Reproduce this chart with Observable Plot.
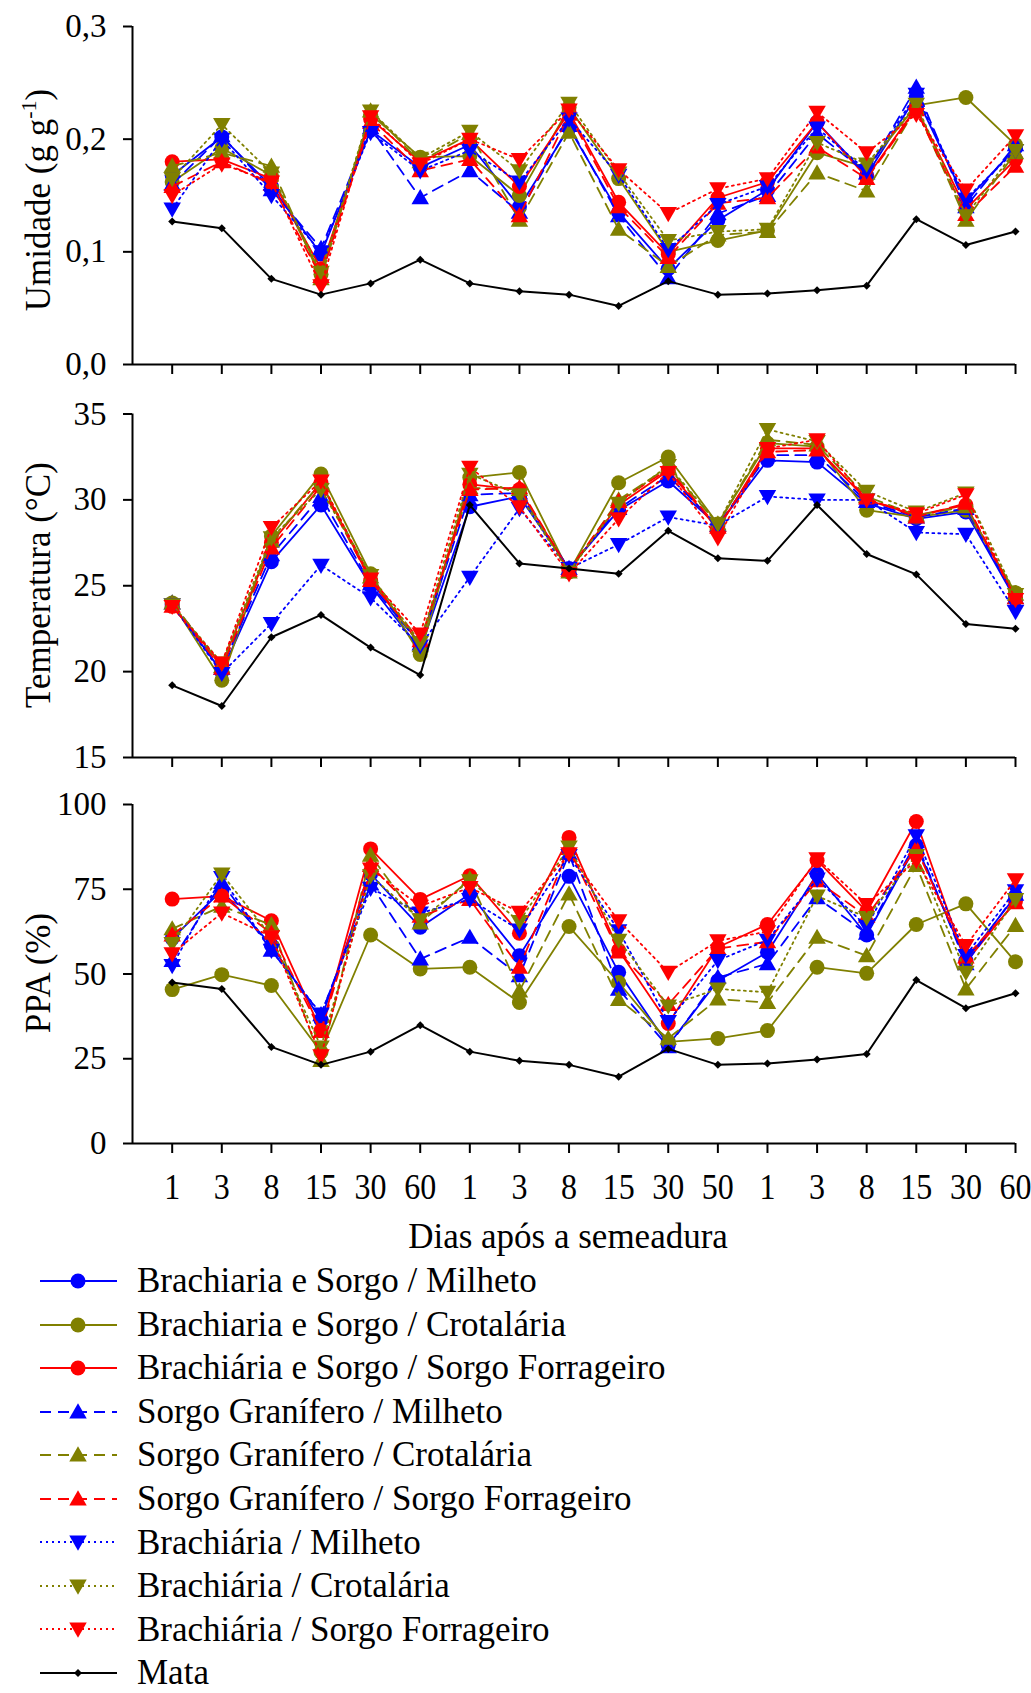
<!DOCTYPE html>
<html><head><meta charset="utf-8">
<script src="https://cdn.jsdelivr.net/npm/d3@7"></script>
<script src="https://cdn.jsdelivr.net/npm/@observablehq/plot@0.6"></script>
<style>
body{margin:0;background:#fff;font-family:"Liberation Serif","Times New Roman",Times,serif;color:#000;}
#wrap{position:relative;width:1031px;height:1693px;overflow:hidden;}
.panel{position:absolute;left:0;}
.ylab{position:absolute;font-size:35px;white-space:nowrap;transform:translate(-50%,-50%) rotate(-90deg);line-height:1;}
.ylab sup{font-size:22px;position:relative;top:-2px;}
#xlab{position:absolute;font-size:35px;white-space:nowrap;transform:translate(-50%,-50%);line-height:1;}
.leg{position:absolute;left:0;height:44px;display:flex;align-items:center;}
.leg span{font-size:35px;white-space:nowrap;line-height:0.9;}
</style></head><body><div id="wrap"></div>
<script>
// ---------- categories ----------
const days = ["1","3","8","15","30","60","1","3","8","15","30","50","1","3","8","15","30","60"];
const seriesNames = [
  "Brachiaria e Sorgo / Milheto",
  "Brachiaria e Sorgo / Crotalária",
  "Brachiária e Sorgo / Sorgo Forrageiro",
  "Sorgo Granífero / Milheto",
  "Sorgo Granífero / Crotalária",
  "Sorgo Granífero / Sorgo Forrageiro",
  "Brachiária / Milheto",
  "Brachiária / Crotalária",
  "Brachiária / Sorgo Forrageiro",
  "Mata"
];
const seriesColors = ["#0000ff","#808000","#ff0000","#0000ff","#808000","#ff0000","#0000ff","#808000","#ff0000","#000000"];
const seriesDash = [null,null,null,"11,7","11,7","11,7","2,4","2,4","2,4",null];
const seriesShape = ["circle","circle","circle","up","up","up","down","down","down","mata"];

// ---------- Umidade (g g-1) ----------
const umBSM = [0.168,0.202,0.158,0.098,0.208,0.175,0.195,0.140,0.210,0.135,0.085,0.128,0.155,0.215,0.168,0.238,0.145,0.192];
const umBSC = [0.162,0.192,0.168,0.080,0.222,0.184,0.185,0.150,0.228,0.165,0.100,0.110,0.119,0.188,0.175,0.230,0.237,0.195];
const umBSF = [0.180,0.182,0.165,0.085,0.218,0.180,0.200,0.158,0.224,0.144,0.098,0.148,0.162,0.215,0.166,0.228,0.138,0.182];
const umSGM = [0.160,0.203,0.155,0.103,0.210,0.148,0.172,0.135,0.212,0.132,0.077,0.134,0.150,0.205,0.170,0.246,0.140,0.195];
const umSGC = [0.176,0.188,0.176,0.076,0.225,0.180,0.205,0.128,0.206,0.120,0.087,0.115,0.118,0.170,0.154,0.228,0.128,0.188];
const umSGF = [0.158,0.180,0.160,0.078,0.215,0.172,0.182,0.132,0.222,0.140,0.095,0.143,0.148,0.193,0.165,0.226,0.133,0.176];
const umBM  = [0.138,0.200,0.150,0.100,0.206,0.172,0.190,0.162,0.218,0.168,0.102,0.142,0.158,0.210,0.172,0.240,0.147,0.190];
const umBC  = [0.165,0.213,0.170,0.082,0.225,0.183,0.207,0.172,0.232,0.170,0.110,0.118,0.120,0.197,0.178,0.231,0.132,0.190];
const umBF  = [0.150,0.178,0.162,0.070,0.220,0.178,0.200,0.182,0.226,0.173,0.134,0.156,0.165,0.224,0.188,0.222,0.155,0.203];
const umMata= [0.127,0.121,0.076,0.062,0.072,0.093,0.072,0.065,0.062,0.052,0.074,0.062,0.063,0.066,0.070,0.129,0.106,0.118];

// ---------- Temperatura (°C) ----------
const tBSM = [23.9,20.0,26.4,29.7,25.0,21.3,29.6,30.2,26.0,29.4,31.1,28.5,32.3,32.2,29.8,28.9,29.3,24.2];
const tBSC = [24.0,19.5,27.9,31.5,25.7,21.0,31.3,31.6,25.8,31.0,32.5,28.6,33.3,33.1,29.4,29.0,29.4,24.6];
const tBSF = [23.8,20.4,27.5,31.0,25.3,21.6,30.9,30.6,25.9,29.7,31.7,28.3,33.0,33.0,30.0,29.1,29.7,24.3];
const tSGM = [24.0,20.2,26.8,30.2,25.1,21.6,30.3,30.4,26.0,29.5,31.4,28.5,32.6,32.6,29.9,29.0,29.5,24.3];
const tSGC = [24.0,20.3,27.6,31.0,25.5,21.5,30.7,30.6,25.8,30.0,31.9,28.6,33.5,33.2,30.2,29.1,29.6,24.5];
const tSGF = [23.8,20.2,27.2,30.8,25.3,21.8,30.6,30.7,25.9,29.9,31.8,28.4,32.8,32.9,30.1,29.0,29.8,24.3];
const tBM  = [23.9,19.9,22.8,26.2,24.3,21.5,25.5,29.5,26.0,27.4,29.0,28.5,30.2,30.0,30.0,28.1,28.0,23.5];
const tBC  = [23.9,20.5,27.8,30.6,25.6,21.7,31.5,30.3,25.8,29.8,32.0,28.6,34.1,33.4,30.5,29.3,30.4,24.5];
const tBF  = [23.8,20.5,28.4,31.1,25.4,22.2,31.9,29.6,25.7,28.9,31.6,27.8,33.0,33.5,30.0,29.2,30.3,24.2];
const tMata= [19.2,18.0,22.0,23.3,21.4,19.8,29.7,26.3,26.0,25.7,28.2,26.6,26.45,29.7,26.85,25.66,22.77,22.5];

// ---------- PPA (%) ----------
const pBSM = [60.5,74.6,58.5,36.5,79.5,63.8,73.6,55.4,78.8,50.5,29.0,48.0,56.4,79.5,61.5,88.0,54.0,73.0];
const pBSC = [45.4,49.8,46.6,27.0,61.5,51.5,52.0,41.6,64.0,47.5,30.0,31.0,33.3,52.0,50.2,64.6,70.7,53.6];
const pBSF = [72.1,73.0,65.7,33.3,86.9,72.0,79.0,62.0,90.3,57.0,35.4,57.9,64.6,83.5,68.5,95.0,53.5,71.5];
const pSGM = [54.0,77.0,57.0,38.0,76.5,54.4,60.8,49.5,85.5,45.5,28.5,49.0,53.0,72.5,62.0,89.0,53.0,73.5];
const pSGC = [63.3,70.0,64.5,24.5,85.0,65.0,78.0,45.0,73.6,42.5,31.0,42.6,41.6,60.8,55.4,82.0,45.6,64.3];
const pSGF = [61.5,73.0,62.0,33.0,82.0,67.0,72.0,52.0,87.0,56.5,41.0,57.5,59.5,77.5,67.0,87.0,55.0,71.0];
const pBM  = [52.5,78.5,57.0,38.2,75.3,68.0,72.0,63.0,85.0,62.8,36.0,54.0,60.0,78.0,64.0,90.8,55.5,74.6];
const pBC  = [59.0,79.5,61.0,28.5,79.0,66.0,77.5,65.5,87.5,60.0,40.6,45.6,44.6,73.0,66.7,85.0,50.5,72.0];
const pBF  = [56.0,68.0,61.0,25.9,81.0,70.0,75.5,68.2,85.5,65.7,50.5,59.8,62.5,84.0,70.5,83.5,58.4,77.8];
const pMata= [47.5,45.6,28.5,23.2,27.1,34.9,27.1,24.4,23.2,19.7,27.9,23.2,23.6,24.8,26.4,48.2,39.9,44.3];

// ---------- tick values ----------
const umTicks = [0,0.1,0.2,0.3];
const tTicks = [15,20,25,30,35];
const pTicks = [0,25,50,75,100];

// ---------- symbols ----------
const triUp = {draw(ctx, size){const r=Math.sqrt(size/Math.PI);ctx.moveTo(0,-1.15*r);ctx.lineTo(1.15*r,0.85*r);ctx.lineTo(-1.15*r,0.85*r);ctx.closePath();}};
const triDown = {draw(ctx, size){const r=Math.sqrt(size/Math.PI);ctx.moveTo(0,1.15*r);ctx.lineTo(1.15*r,-0.85*r);ctx.lineTo(-1.15*r,-0.85*r);ctx.closePath();}};
const diamond = {draw(ctx, size){const r=Math.sqrt(size/Math.PI);ctx.moveTo(0,-r);ctx.lineTo(r,0);ctx.lineTo(0,r);ctx.lineTo(-r,0);ctx.closePath();}};
const symFor = s => s==="circle" ? "circle" : s==="up" ? triUp : s==="down" ? triDown : diamond;
const rFor = s => s==="circle" ? 7.5 : s==="mata" ? 4 : 7.6;
const swFor = s => s===9 ? 2 : 1.8;

const FONT = '"Liberation Serif","Times New Roman",Times,serif';
const XMIN = -0.8, XMAX = 17;

function panel(seriesArrays, yDomain, yTicks, yFmt, opts){
  const marks = [];
  seriesArrays.forEach((arr, s) => {
    const rows = arr.map((v,i)=>({i, v}));
    marks.push(Plot.line(rows, {x:"i", y:"v", stroke: seriesColors[s], strokeWidth: swFor(s), strokeDasharray: seriesDash[s] ?? undefined}));
    marks.push(Plot.dot(rows, {x:"i", y:"v", symbol: symFor(seriesShape[s]), r: rFor(seriesShape[s]), fill: seriesColors[s], stroke: "none"}));
  });
  return Plot.plot({
    width: 1031, height: opts.height,
    marginLeft: 132, marginRight: 16, marginTop: opts.mt, marginBottom: opts.mb,
    x: {domain:[XMIN, XMAX]},
    y: {domain: yDomain},
    style: {fontFamily: FONT, background: "white", color: "black", overflow: "visible"},
    marks: [
      Plot.axisY(yTicks, {tickSize: 9, tickPadding: 17, tickFormat: yFmt, fontSize: 33, strokeWidth: 2, label: null}),
      Plot.axisX(d3.range(18), {tickSize: 10, tickPadding: 21, strokeWidth: 2, fontSize: 32, label: null,
        tickFormat: opts.labels ? (i => days[i]) : (() => "")}),
      Plot.ruleX([XMIN], {strokeWidth: 2}),
      Plot.ruleY([yDomain[0]], {strokeWidth: 2}),
      ...marks
    ]
  });
}

const wrap = document.getElementById("wrap");
function place(svg, top){ const d=document.createElement("div"); d.className="panel"; d.style.top=top+"px"; d.appendChild(svg); wrap.appendChild(d); return svg; }

const comma = d => d.toFixed(1).replace(".", ",");
place(panel([umBSM,umBSC,umBSF,umSGM,umSGC,umSGF,umBM,umBC,umBF,umMata],[0,0.3],umTicks,comma,{height:390,mt:26,mb:26}),0);
place(panel([tBSM,tBSC,tBSF,tSGM,tSGC,tSGF,tBM,tBC,tBF,tMata],[15,35],tTicks,d=>String(d),{height:390,mt:23.5,mb:23}),390);
const bottom = place(panel([pBSM,pBSC,pBSF,pSGM,pSGC,pSGF,pBM,pBC,pBF,pMata],[0,100],pTicks,d=>String(d),{height:440,mt:24,mb:77,labels:true}),780);

// the reference's day labels are slightly taller than wide: stretch them vertically about their centre
bottom.querySelectorAll('g[aria-label="x-axis tick label"] text').forEach(t => {
  const b = t.getBBox(); const cx = b.x + b.width/2, cy = b.y + b.height/2;
  const tr = t.getAttribute("transform") || "";
  t.setAttribute("transform", `${tr} translate(${cx},${cy}) scale(1,1.15) translate(${-cx},${-cy})`);
});

// y-axis titles
function ylab(html, y){ const d=document.createElement("div"); d.className="ylab"; d.innerHTML=html; d.style.left="38px"; d.style.top=y+"px"; wrap.appendChild(d); }
ylab('Umidade (g g<sup>-1</sup>)', 200);
ylab('Temperatura (°C)', 585);
ylab('PPA (%)', 973);

// x-axis title
const xl=document.createElement("div"); xl.id="xlab"; xl.textContent="Dias após a semeadura"; xl.style.left="568px"; xl.style.top="1236px"; wrap.appendChild(xl);

// legend
seriesNames.forEach((name, s) => {
  const row = document.createElement("div"); row.className="leg"; row.style.top=(1281 + 43.55*s - 22)+"px";
  const svg = d3.create("svg").attr("width",130).attr("height",44);
  svg.append("line").attr("x1",40).attr("x2",117).attr("y1",22).attr("y2",22)
     .attr("stroke",seriesColors[s]).attr("stroke-width",swFor(s)).attr("stroke-dasharray",seriesDash[s]);
  const p = d3.path(); const sym = symFor(seriesShape[s]); const r = rFor(seriesShape[s]);
  if (sym === "circle") { p.arc(0,0,r,0,2*Math.PI); } else sym.draw(p, r*r*Math.PI);
  svg.append("path").attr("d", p.toString()).attr("transform","translate(78,22)").attr("fill",seriesColors[s]);
  row.appendChild(svg.node());
  const sp=document.createElement("span"); sp.textContent=name; sp.style.marginLeft="7px"; row.appendChild(sp);
  wrap.appendChild(row);
});
</script></body></html>
